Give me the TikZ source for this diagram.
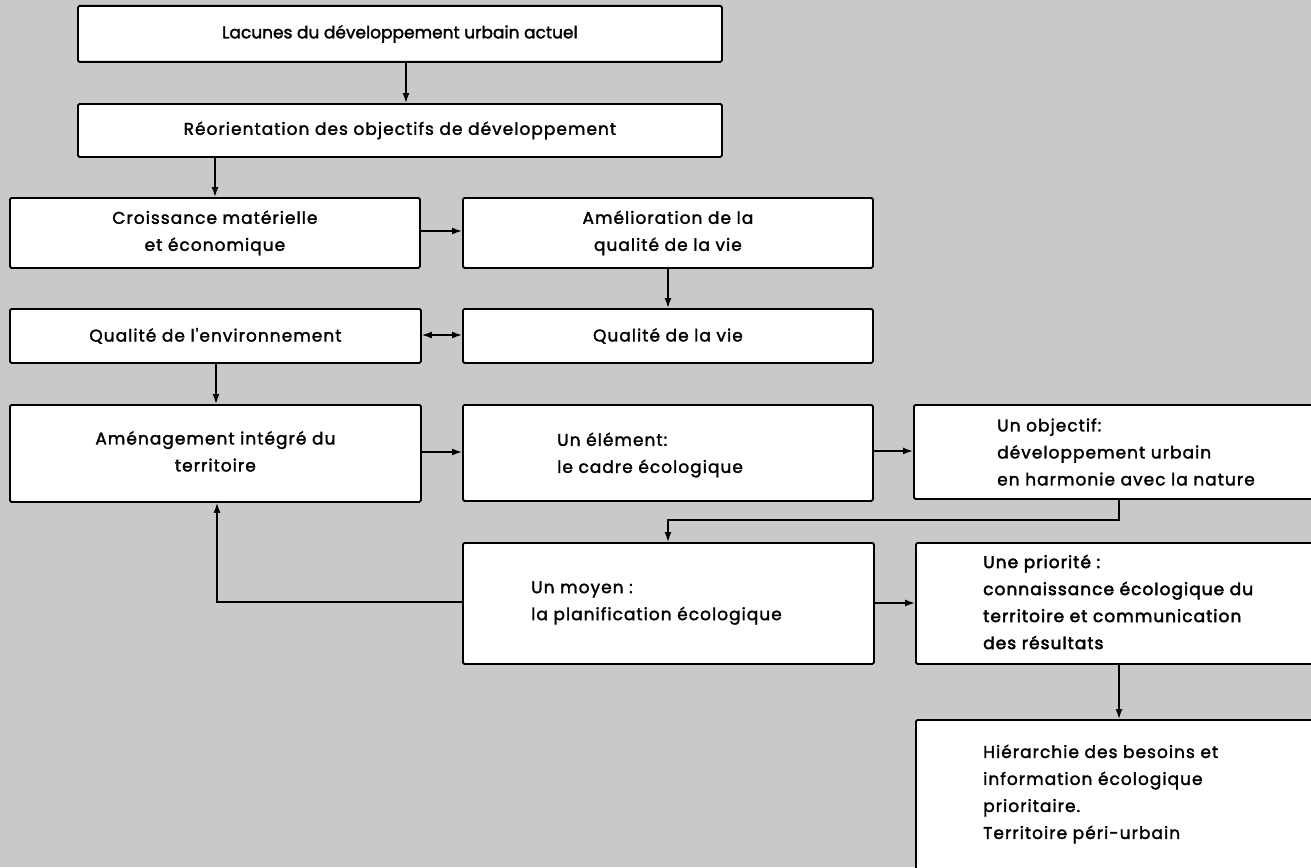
\documentclass[tikz,border=0pt]{standalone}
\usepackage{fontspec}
\setmainfont{Poppins}
\newfontfamily\bodyfont{Poppins}[LetterSpace=6, FakeBold=1.8]
\newfontfamily\tightfont{Poppins}[LetterSpace=0, FakeBold=1.8]
\newfontfamily\heavyfont{Poppins}[LetterSpace=6, FakeBold=2.6]
\usetikzlibrary{arrows.meta,calc}
\begin{document}
\begin{tikzpicture}[x=1pt,y=-1pt,
  box/.style={draw, fill=white, line width=1.8pt, rounded corners=1.5pt, anchor=north west, inner sep=0pt},
  txt/.style={font=\fontsize{17}{27}\bodyfont, inner sep=0pt},
  conn/.style={line width=1.5pt, -{Latex[length=10pt,width=7pt]}},
  conn2/.style={line width=1.5pt, {Latex[length=10pt,width=7pt]}-{Latex[length=10pt,width=7pt]}},
  ]
\useasboundingbox (0,0) rectangle (1311,867);
\clip (0,0) rectangle (1311,867);
\fill[black!21] (0,0) rectangle (1311,867);

% boxes
\node[box, minimum width=644, minimum height=56] (lac) at (77,5) {};
\node[box, minimum width=644, minimum height=53] (reo) at (77,103) {};
\node[box, minimum width=410, minimum height=70] (cro) at (9,197) {};
\node[box, minimum width=410, minimum height=70] (ame) at (462,197) {};
\node[box, minimum width=411, minimum height=54] (qe) at (9,308) {};
\node[box, minimum width=410, minimum height=54] (qv) at (462,308) {};
\node[box, minimum width=411, minimum height=97] (amt) at (9,404) {};
\node[box, minimum width=410, minimum height=96] (ele) at (462,404) {};
\node[box, minimum width=450, minimum height=94] (obj) at (913,404) {};
\node[box, minimum width=411, minimum height=121] (moy) at (462,542) {};
\node[box, minimum width=450, minimum height=121] (pri) at (915,542) {};
\node[box, minimum width=450, minimum height=200] (hie) at (915,719) {};

% texts
\node[txt, font=\fontsize{17}{27}\tightfont] (lacT) at (lac.center) {Lacunes du développement urbain actuel};
\node[txt] (reoT) at (reo.center) {Réorientation des objectifs de développement};
\node[txt, align=center] (croT) at (cro.center) {Croissance matérielle\\et économique};
\node[txt, align=center] (ameT) at (ame.center) {Amélioration de la\\qualité de la vie};
\node[txt] (qeT) at (qe.center) {Qualité de l'environnement};
\node[txt] (qvT) at (qv.center) {Qualité de la vie};
\node[txt, align=center] (amtT) at ($(amt.center)+(0,-2)$) {Aménagement intégré du\\territoire};
\node[txt, align=left, anchor=west] (eleT) at (557,455) {Un élément:\\le cadre écologique};
\node[txt, align=left, anchor=west] (objT) at (997,452) {Un objectif:\\développement urbain\\en harmonie avec la nature};
\node[txt, align=left, anchor=west] (moyT) at (531,603) {Un moyen :\\la planification écologique};
\node[txt, align=left, anchor=west, font=\fontsize{17}{27}\heavyfont] (priT) at (983,602) {Une priorité :\\connaissance écologique du\\territoire et communication\\des résultats};
\node[txt, align=left, anchor=west] (hieT) at (983,794) {Hiérarchie des besoins et\\information écologique\\prioritaire.\\Territoire péri-urbain};

% connectors
\draw[conn] (406,0 |- lac.south) -- (406,0 |- reo.north);
\draw[conn] (215,0 |- reo.south) -- (215,0 |- cro.north);
\draw[conn] (cro.east |- 0,231) -- (ame.west |- 0,231);
\draw[conn] (668,0 |- ame.south) -- (668,0 |- qv.north);
\draw[conn2] (qe.east |- 0,335) -- (qv.west |- 0,335);
\draw[conn] (216,0 |- qe.south) -- (216,0 |- amt.north);
\draw[conn] (amt.east |- 0,452) -- (ele.west |- 0,452);
\draw[conn] (ele.east |- 0,451) -- (obj.west |- 0,451);
\coordinate (k1) at (1119,520);
\coordinate (k2) at (668,520);
\draw[conn] (1119,0 |- obj.south) -- (k1) -- (k2) -- (668,0 |- moy.north);
\coordinate (k3) at (217,602);
\draw[conn] (moy.west |- 0,602) -- (k3) -- (217,0 |- amt.south);
\draw[conn] (moy.east |- 0,603) -- (pri.west |- 0,603);
\draw[conn] (1119,0 |- pri.south) -- (1119,0 |- hie.north);
\end{tikzpicture}
\end{document}
